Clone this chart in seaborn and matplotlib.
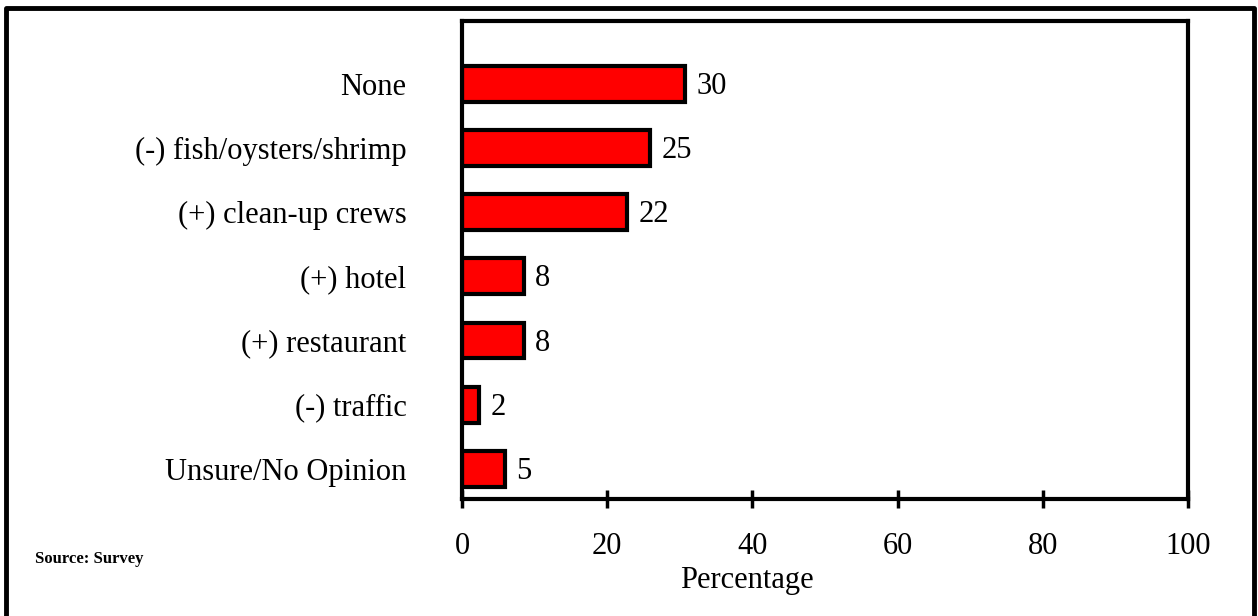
import numpy as np
import pandas as pd
import matplotlib
matplotlib.use('Agg')
import matplotlib.pyplot as plt
import seaborn as sns

# Data
categories = ['None', '(-) fish/oysters/shrimp', '(+) clean-up crews', '(+) hotel',
              '(+) restaurant', '(-) traffic', 'Unsure/No Opinion']
values = [30.7, 25.9, 22.7, 8.5, 8.5, 2.4, 5.9]
value_labels = ['30', '25', '22', '8', '8', '2', '5']
x_ticks = [0, 20, 40, 60, 80, 100]

df = pd.DataFrame({'category': categories, 'pct': values})

sns.set_style('white')
plt.rcParams['font.family'] = ['Liberation Serif', 'DejaVu Serif']
plt.rcParams['text.color'] = 'black'
plt.rcParams['xtick.color'] = 'black'
plt.rcParams['ytick.color'] = 'black'
plt.rcParams['axes.labelcolor'] = 'black'

fig = plt.figure(figsize=(12.58, 6.16), dpi=100)
ax = fig.add_axes([462 / 1258, 1 - 499 / 616, (1188 - 462) / 1258, (499 - 21) / 616])

sns.barplot(data=df, x='pct', y='category', orient='h', color='#ff0000',
            edgecolor='black', linewidth=3, width=0.56, saturation=1, ax=ax)

# value labels at the bar ends
for bar, lab in zip(ax.patches, value_labels):
    ax.text(bar.get_width() + 1.6, bar.get_y() + bar.get_height() / 2 + 0.04, lab,
            va='center', ha='left', fontsize=22)

ax.set_xlim(0, 100)
ax.set_ylim(6.47, -0.98)
ax.set_xticks(x_ticks)
ax.set_xticklabels([str(t) for t in x_ticks], fontsize=22)
ax.tick_params(axis='x', bottom=True, direction='inout', length=13, width=2.5,
               pad=17, color='black')
ax.tick_params(axis='y', left=False, length=0, pad=40, labelsize=22)
ax.set_ylabel('')
ax.set_xlabel('Percentage', fontsize=22)
ax.xaxis.set_label_coords((747 - 462) / 726, -0.14)

for s in ax.spines.values():
    s.set_visible(True)
    s.set_linewidth(3)
    s.set_color('black')

# outer frame (top, left, right edges)
fig.add_artist(plt.Line2D([6 / 1258, 6 / 1258, 1254 / 1258, 1254 / 1258],
                          [0, 1 - 8 / 616, 1 - 8 / 616, 0],
                          transform=fig.transFigure, color='black', linewidth=3.5))

fig.text(35 / 1258, 1 - 559 / 616, 'Source: Survey', fontsize=12, fontweight='bold',
         ha='left', va='center')

fig.savefig('out.png', dpi=100)
